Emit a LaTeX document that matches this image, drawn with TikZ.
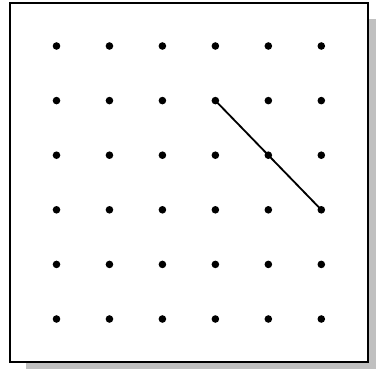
\documentclass[tikz,border=0pt]{standalone}
\usepackage{xcolor}
\usepackage{tikz}
\usetikzlibrary{positioning}
\definecolor{myshadow}{RGB}{192,192,192}
\definecolor{mydark}{RGB}{0,0,0}
\tikzset{
  peg/.style={circle, fill=mydark, inner sep=0pt, minimum size=0.19cm},
  frame/.style={draw=mydark, fill=white, line width=1.4pt},
  band/.style={line width=1.3pt, color=mydark}
}
\begin{document}
\begin{tikzpicture}[x=0.025cm, y=-0.025cm]
  \useasboundingbox (0,0) rectangle (376,369);
  % shadow and board
  \fill[myshadow] (26,19) rectangle (376,369);
  \draw[frame] (10,3) rectangle (368,362);
  % 6x6 grid of pegs
  \foreach \i in {0,...,5}
    \foreach \j in {0,...,5}
      \node[peg] (p-\i-\j) at ({56.5+52.96*\i}, {46+54.6*\j}) {};
  % segment
  \draw[band] (p-3-1.center) -- (p-4-2.center) -- (p-5-3.center);
\end{tikzpicture}
\end{document}
